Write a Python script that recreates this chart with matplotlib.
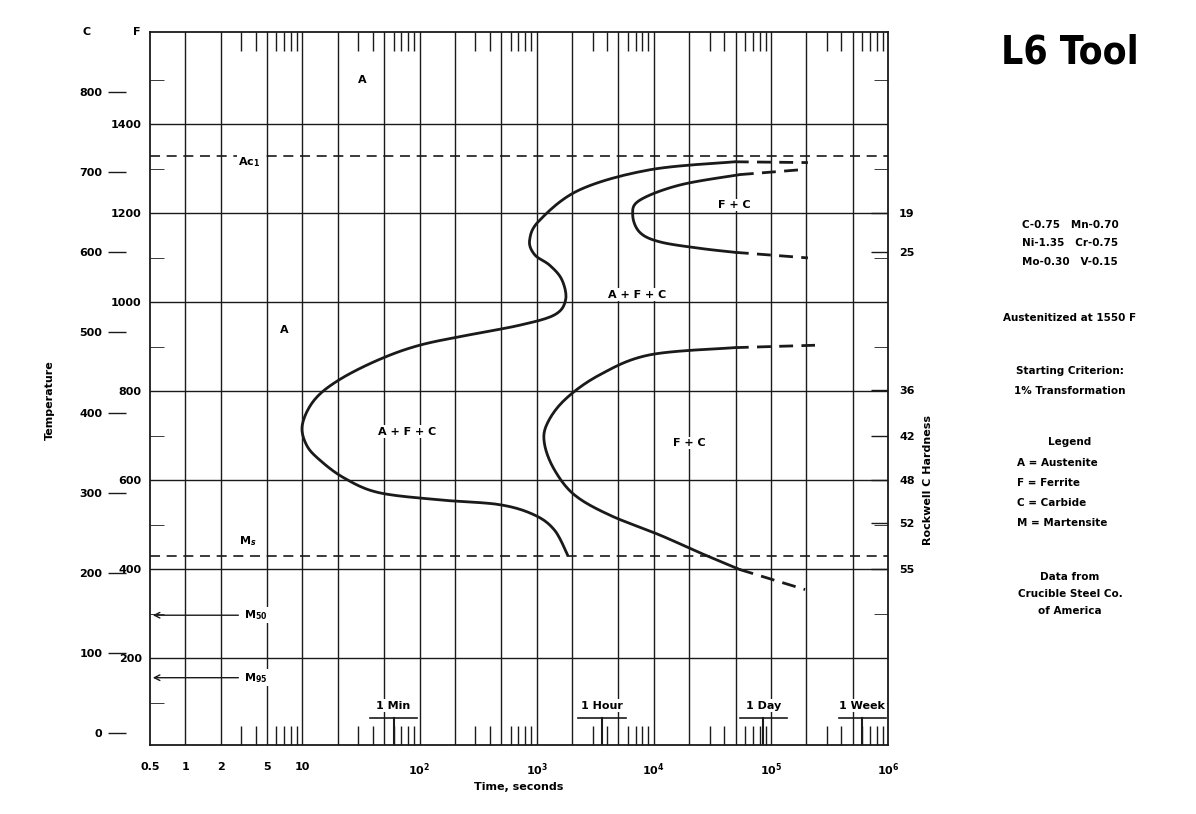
import numpy as np
import matplotlib
matplotlib.use("Agg")
import matplotlib.pyplot as plt

# ---------------- data ----------------
start_t = [49200, 9240, 2330, 1060, 871, 962, 1290, 1640, 1770, 1425, 716, 267, 100, 45, 20.7, 12.7, 10, 10.8, 14, 22.9, 45, 148, 483, 962, 1425, 1840]
start_T = [713, 703, 678, 640, 615, 597, 584, 566, 541, 522, 509, 497, 484, 466, 441, 416, 385, 360, 341, 318, 300, 291, 285, 272, 253, 222]
start_dash_t = [49200, 207000]
start_dash_T = [713, 712]

fin_up_t = [54300, 16700, 7590, 6610, 7590, 11300, 24700, 49200]
fin_up_T = [697, 684, 665, 647, 625, 613, 605, 600]
fin_up_dash1_t = [54300, 177000]
fin_up_dash1_T = [697, 703]
fin_up_dash2_t = [49200, 207000]
fin_up_dash2_T = [600, 593]

fin_lo_t = [49200, 9240, 3450, 1740, 1220, 1170, 1425, 2110, 4200, 11300, 24700, 54300]
fin_lo_T = [481, 472, 447, 416, 385, 360, 328, 297, 272, 247, 225, 204]
fin_lo_dash1_t = [49200, 238000]
fin_lo_dash1_T = [481, 484]
fin_lo_dash2_t = [54300, 196000]
fin_lo_dash2_T = [204, 179]

Ac1_C = 720
Ms_C = 221
M50_C = 147
M95_C = 69

region_labels = ["A", "A", "A + F + C", "A + F + C", "F + C", "F + C"]
region_t = [32.6, 7.0, 79, 7160, 49200, 20300]
region_T = [815, 503, 376, 547, 659, 362]

time_marks = ["1 Min", "1 Hour", "1 Day", "1 Week"]
time_mark_s = [60, 3600, 86400, 604800]

c_ticks = [0, 100, 200, 300, 400, 500, 600, 700, 800]
f_ticks = [200, 400, 600, 800, 1000, 1200, 1400]
f_minor = [100, 300, 500, 700, 900, 1100, 1300, 1500]
hard_labels = ["19", "25", "36", "42", "48", "52", "55"]
hard_T = [649, 600, 428, 371, 316, 262, 205]

x_tick_vals = [0.5, 1, 2, 5, 10, 1e2, 1e3, 1e4, 1e5, 1e6]
x_tick_labels = ["0.5", "1", "2", "5", "10", "$10^2$", "$10^3$", "$10^4$", "$10^5$", "$10^6$"]

# ---------------- helpers ----------------
def smooth(t, T, n=12):
    """Catmull-Rom drawing of the read points (log time)."""
    x = np.log10(np.asarray(t, float))
    y = np.asarray(T, float) / 100.0
    P = np.column_stack([x, y])
    P = np.vstack([P[0], P, P[-1]])
    out = []
    for i in range(1, len(P) - 2):
        p0, p1, p2, p3 = P[i - 1], P[i], P[i + 1], P[i + 2]
        for s in np.linspace(0, 1, n, endpoint=False):
            out.append(0.5 * ((2 * p1) + (-p0 + p2) * s + (2 * p0 - 5 * p1 + 4 * p2 - p3) * s**2
                              + (-p0 + 3 * p1 - 3 * p2 + p3) * s**3))
    out.append(P[-2])
    out = np.array(out)
    return 10 ** out[:, 0], out[:, 1] * 100.0

# ---------------- plot ----------------
plt.rcParams['font.family'] = ['DejaVu Sans']
plt.rcParams['font.weight'] = 'bold'
ink = "#1a1a1a"
fig = plt.figure(figsize=(11.96, 8.14), dpi=100)
ax = fig.add_axes([150/1196, 69/814, 738/1196, 713/814])
ax.set_xscale('log')
ax.set_xlim(0.5, 1e6)
ax.set_ylim(-15, 875)

f2c = lambda f: (np.asarray(f) - 32) * 5 / 9

for d in range(0, 6):
    for m in (1, 2, 5):
        v = m * 10**d
        if v < 1e6:
            ax.axvline(v, color=ink, lw=1.0, zorder=1)
for f in f_ticks:
    ax.axhline(float(f2c(f)), color=ink, lw=1.0, zorder=1)

minors = [m * 10**d for d in range(0, 6) for m in (3, 4, 6, 7, 8, 9)]
ax.set_xticks(minors, minor=True)
ax.tick_params(axis='x', which='minor', direction='in', length=14, top=True, bottom=True, width=1, color=ink, labelbottom=False)
ax.set_xticks(x_tick_vals)
ax.set_xticklabels(x_tick_labels, fontsize=8)
ax.tick_params(axis='x', which='major', length=0, pad=12)

ax.set_yticks([float(f2c(f)) for f in f_ticks])
ax.set_yticklabels([str(f) for f in f_ticks], fontsize=8)
ax.set_yticks([float(f2c(f)) for f in f_minor], minor=True)
ax.tick_params(axis='y', which='major', length=0, pad=6)
ax.tick_params(axis='y', which='minor', direction='in', length=10, left=True, right=True, color=ink)
for s in ax.spines.values():
    s.set_linewidth(1.3)
    s.set_color(ink)

secC = ax.secondary_yaxis(-0.057)
secC.set_yticks(c_ticks)
secC.set_yticklabels([str(c) for c in c_ticks], fontsize=8)
secC.spines['left'].set_visible(False)
secC.tick_params(direction='in', length=13, width=1, color=ink, pad=4)

secR = ax.secondary_yaxis('right')
secR.set_yticks(hard_T)
secR.set_yticklabels(hard_labels, fontsize=8)
secR.spines['right'].set_visible(False)
secR.tick_params(direction='in', length=12, width=1, color=ink, pad=8)

lw = 2.0
dash = (0, (5, 3))
for tt, TT in ((start_t, start_T), (fin_up_t, fin_up_T), (fin_lo_t, fin_lo_T)):
    sx, sy = smooth(tt, TT)
    ax.plot(sx, sy, color=ink, lw=lw, zorder=3, solid_capstyle='round')
for tt, TT in ((start_dash_t, start_dash_T), (fin_up_dash1_t, fin_up_dash1_T), (fin_up_dash2_t, fin_up_dash2_T),
               (fin_lo_dash1_t, fin_lo_dash1_T), (fin_lo_dash2_t, fin_lo_dash2_T)):
    ax.plot(tt, TT, color=ink, lw=lw, ls=dash, zorder=3)

ax.axhline(Ac1_C, color=ink, lw=1.2, ls=(0, (6, 4)), zorder=2)
ax.axhline(Ms_C, color=ink, lw=1.2, ls=(0, (6, 4)), zorder=2)
bbox = dict(facecolor='white', edgecolor='none', pad=1)
ax.text(3.5, Ac1_C - 8, "Ac$_1$", fontsize=8, ha='center', va='center', bbox=bbox, zorder=4)
ax.text(3.4, Ms_C + 18, "M$_s$", fontsize=8, ha='center', va='center', bbox=bbox, zorder=4)
for val, lab in ((M50_C, "M$_{50}$"), (M95_C, "M$_{95}$")):
    ax.annotate("", xy=(0.5, val), xytext=(3.0, val),
                arrowprops=dict(arrowstyle='->', color=ink, lw=1), zorder=4)
    ax.text(3.2, val, lab, fontsize=8, ha='left', va='center', bbox=bbox, zorder=4)

for lab, t, T in zip(region_labels, region_t, region_T):
    ax.text(t, T, lab, fontsize=8, ha='center', va='center', bbox=bbox, zorder=4)

for lab, t in zip(time_marks, time_mark_s):
    ax.text(t, 34, lab, fontsize=8, ha='center', va='center', bbox=bbox, zorder=4)
    ax.plot([t / 1.6, t * 1.6], [19, 19], color=ink, lw=1.2, zorder=4)
    ax.plot([t, t], [19, -15], color=ink, lw=1.5, zorder=4)

fig.text(87/1196, 1 - 32/814, "C", fontsize=8, ha='center', va='center')
fig.text(137/1196, 1 - 32/814, "F", fontsize=8, ha='center', va='center')
fig.text(50/1196, 1 - 400/814, "Temperature", fontsize=8, rotation=90, ha='center', va='center')
fig.text(928/1196, 1 - 480/814, "Rockwell C Hardness", fontsize=8, rotation=90, ha='center', va='center')
fig.text(519/1196, 1 - 787/814, "Time, seconds", fontsize=8, ha='center', va='center')

fig.text(1070/1196, 1 - 52/814, "L6 Tool", fontsize=28, fontweight='bold', ha='center', va='center', fontstretch='condensed')
side = [("C-0.75   Mn-0.70", 225), ("Ni-1.35   Cr-0.75", 243), ("Mo-0.30   V-0.15", 262),
        ("Austenitized at 1550 F", 318), ("Starting Criterion:", 371), ("1% Transformation", 391),
        ("Legend", 442), ("Data from", 577), ("Crucible Steel Co.", 594), ("of America", 611)]
for s, y in side:
    fig.text(1070/1196, 1 - y/814, s, fontsize=7.5, ha='center', va='center')
for s, y in (("A = Austenite", 463), ("F = Ferrite", 483), ("C = Carbide", 503), ("M = Martensite", 523)):
    fig.text(1017/1196, 1 - y/814, s, fontsize=7.5, ha='left', va='center')

fig.savefig("out.png", dpi=100)
